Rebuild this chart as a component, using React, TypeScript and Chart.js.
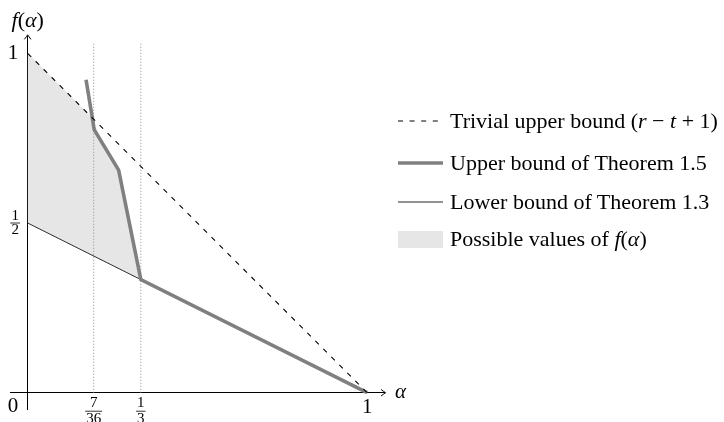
import React, { useEffect, useRef } from "react";
import { Chart, registerables } from "chart.js";

Chart.register(...registerables);

const FONT = "'Liberation Serif', 'Times New Roman', serif";

// ---- data ----
const trivialX = [0, 1];
const trivialY = [1, 0];
const upperX = [0.172, 0.196, 0.268, 1 / 3, 1];
const upperY = [0.922, 0.775, 0.656, 1 / 3, 0];
const lowerX = [0, 1];
const lowerY = [0.5, 0];
const regionX = [0, 0.19, 0.196, 0.268, 1 / 3];
const regionY = [1, 0.81, 0.775, 0.656, 1 / 3];
const markerX = [7 / 36, 1 / 3];
const markerY = [0, 1.03];

const xTickValues = [7 / 36, 1 / 3, 1];
const xTickLabels: (string | string[])[] = [["7", "36"], ["1", "3"], "1"];
const yTickValues = [0, 0.5, 1];
const yTickLabels: (string | string[])[] = [["", "0"], ["1", "2"], "1"];

const legendTexts: [string, boolean][][] = [
  [["Trivial upper bound (", false], ["r", true], [" − ", false], ["t", true], [" + 1)", false]],
  [["Upper bound of Theorem 1.5", false]],
  [["Lower bound of Theorem 1.3", false]],
  [["Possible values of ", false], ["f", true], ["(", false], ["α", true], [")", false]],
];
const legendKinds = ["dash", "thick", "thin", "box"];

const SP_BIG = " \u2009";
const SP_SMALL = "\u2002\u200A";
const FRAC_SIZE = 15;
const FRAC_LH = 15.5;
const X_PAD = 3;

const isFrac = (l: string | string[]) => Array.isArray(l) && l[0] !== "" && l.length === 2;

const pts = (xs: number[], ys: number[]) => xs.map((x, i) => ({ x, y: ys[i] }));

const drawParts = (ctx: CanvasRenderingContext2D, parts: [string, boolean][], x: number, y: number, size: number, align: "left" | "center") => {
  const fontOf = (it: boolean) => `${it ? "italic " : ""}${size}px ${FONT}`;
  let total = 0;
  for (const [t, it] of parts) {
    ctx.font = fontOf(it);
    total += ctx.measureText(t).width;
  }
  let cx = align === "center" ? x - total / 2 : x;
  ctx.textAlign = "left";
  for (const [t, it] of parts) {
    ctx.font = fontOf(it);
    ctx.fillText(t, cx, y);
    cx += ctx.measureText(t).width;
  }
};

const decorPlugin = {
  id: "decor",
  afterDraw(chart: any) {
    const ctx: CanvasRenderingContext2D = chart.ctx;
    const xs = chart.scales.x;
    const ys = chart.scales.y;
    const x0 = xs.getPixelForValue(0);
    const y0 = ys.getPixelForValue(0);
    ctx.save();
    ctx.strokeStyle = "#000";
    ctx.fillStyle = "#000";
    ctx.lineWidth = 1;
    // arrow heads
    const xr = xs.right + 1.5;
    ctx.beginPath();
    ctx.moveTo(xr - 4.5, y0 - 3.3);
    ctx.quadraticCurveTo(xr - 1.5, y0 - 0.8, xr, y0);
    ctx.quadraticCurveTo(xr - 1.5, y0 + 0.8, xr - 4.5, y0 + 3.3);
    ctx.stroke();
    const yt = ys.top - 1.5;
    ctx.beginPath();
    ctx.moveTo(x0 - 3.3, yt + 4.5);
    ctx.quadraticCurveTo(x0 - 0.8, yt + 1.5, x0, yt);
    ctx.quadraticCurveTo(x0 + 0.8, yt + 1.5, x0 + 3.3, yt + 4.5);
    ctx.stroke();
    // fraction bars
    ctx.lineWidth = 0.8;
    ctx.font = `${FRAC_SIZE}px ${FONT}`;
    xTickValues.forEach((v, i) => {
      const l = xTickLabels[i];
      if (!isFrac(l)) return;
      const w = Math.max(ctx.measureText((l as string[])[0]).width, ctx.measureText((l as string[])[1]).width) + 2;
      const px = xs.getPixelForValue(v);
      const by = y0 + X_PAD + FRAC_LH;
      ctx.beginPath();
      ctx.moveTo(px - w / 2, by);
      ctx.lineTo(px + w / 2, by);
      ctx.stroke();
    });
    yTickValues.forEach((v, i) => {
      const l = yTickLabels[i];
      if (!isFrac(l)) return;
      const w = Math.max(ctx.measureText((l as string[])[0]).width, ctx.measureText((l as string[])[1]).width);
      const right = x0 - ctx.measureText(SP_SMALL).width;
      const py = ys.getPixelForValue(v);
      ctx.beginPath();
      ctx.moveTo(right - w - 1.2, py);
      ctx.lineTo(right + 1.2, py);
      ctx.stroke();
    });
    // axis titles
    ctx.textBaseline = "alphabetic";
    drawParts(ctx, [["α", true]], xs.right + 11, y0 + 5, 21, "left");
    drawParts(ctx, [["f", true], ["(", false], ["α", true], [")", false]], x0, 27, 22, "center");
    ctx.restore();
  },
};

export default function App() {
  const ref = useRef<HTMLCanvasElement | null>(null);

  useEffect(() => {
    if (!ref.current) return;
    const chart = new Chart(ref.current, {
      type: "scatter",
      data: {
        datasets: [
          {
            label: "Trivial upper bound",
            data: pts(trivialX, trivialY),
            showLine: true,
            borderColor: "#000",
            borderWidth: 1.1,
            borderDash: [5, 6.3],
            pointRadius: 0,
            fill: false,
          },
          {
            label: "Upper bound of Theorem 1.5",
            data: pts(upperX, upperY),
            showLine: true,
            borderColor: "#808080",
            borderWidth: 3.6,
            pointRadius: 0,
            fill: false,
          },
          {
            label: "Lower bound of Theorem 1.3",
            data: pts(lowerX, lowerY),
            showLine: true,
            borderColor: "#1a1a1a",
            borderWidth: 0.9,
            pointRadius: 0,
            fill: false,
          },
          {
            label: "7/36",
            data: pts([markerX[0], markerX[0]], markerY),
            showLine: true,
            borderColor: "#8c8c8c",
            borderWidth: 1,
            borderDash: [1, 2],
            pointRadius: 0,
            fill: false,
          },
          {
            label: "1/3",
            data: pts([markerX[1], markerX[1]], markerY),
            showLine: true,
            borderColor: "#8c8c8c",
            borderWidth: 1,
            borderDash: [1, 2],
            pointRadius: 0,
            fill: false,
          },
          {
            label: "Possible values",
            data: pts(regionX, regionY),
            showLine: true,
            borderWidth: 0,
            borderColor: "rgba(0,0,0,0)",
            backgroundColor: "#e6e6e6",
            pointRadius: 0,
            fill: { target: 2 },
          },
        ],
      },
      options: {
        animation: false,
        responsive: false,
        events: [],
        layout: {
          autoPadding: false,
          padding: { left: 10.7, right: 339.9, top: 36.3, bottom: 12.3 },
        },
        elements: { line: { tension: 0 }, point: { radius: 0 } },
        plugins: { legend: { display: false }, tooltip: { enabled: false } },
        scales: {
          x: {
            type: "linear",
            min: -0.05,
            max: 1.05,
            position: { y: 0 },
            grid: { display: false, drawTicks: false },
            border: { display: true, color: "#000", width: 1 },
            afterBuildTicks: (s: any) => {
              s.ticks = xTickValues.map((v) => ({ value: v }));
            },
            afterFit: (s: any) => {
              s.paddingLeft = 0; s.paddingRight = 0; s.paddingTop = 0; s.paddingBottom = 0;
            },
            ticks: {
              autoSkip: false,
              maxRotation: 0,
              minRotation: 0,
              padding: X_PAD,
              color: "#000",
              callback: (_v: any, i: number) => xTickLabels[i],
              font: (c: any) =>
                isFrac(xTickLabels[c.index] ?? "")
                  ? { family: FONT, size: FRAC_SIZE, lineHeight: `${FRAC_LH}px` }
                  : { family: FONT, size: 21, lineHeight: "22.6px" },
            },
          },
          y: {
            type: "linear",
            min: -0.05,
            max: 1.05,
            position: { x: 0 },
            grid: { display: false, drawTicks: false },
            border: { display: true, color: "#000", width: 1 },
            afterBuildTicks: (s: any) => {
              s.ticks = yTickValues.map((v) => ({ value: v }));
            },
            afterFit: (s: any) => {
              s.paddingLeft = 0; s.paddingRight = 0; s.paddingTop = 0; s.paddingBottom = 0;
            },
            ticks: {
              autoSkip: false,
              padding: 0,
              color: "#000",
              callback: (_v: any, i: number) => {
                const l = yTickLabels[i];
                const sp = isFrac(l) ? SP_SMALL : SP_BIG;
                return Array.isArray(l) ? l.map((s) => (s === "" ? s : s + sp)) : l + sp;
              },
              font: (c: any) => {
                const l = yTickLabels[c.index] ?? "";
                if (isFrac(l)) return { family: FONT, size: FRAC_SIZE, lineHeight: "14.5px" };
                if (Array.isArray(l)) return { family: FONT, size: 21, lineHeight: "28px" };
                return { family: FONT, size: 21, lineHeight: "21px" };
              },
            },
          },
        },
      },
      plugins: [decorPlugin],
    } as any);
    return () => chart.destroy();
  }, []);

  const rowCenters = [121, 162.5, 201.5, 239];

  const sample = (kind: string) => {
    if (kind === "box")
      return <div style={{ width: 45, height: 17, background: "#e6e6e6" }} />;
    const stroke = kind === "thick" ? "#808080" : kind === "thin" ? "#6e6e6e" : "#000";
    const sw = kind === "thick" ? 3.6 : kind === "thin" ? 1.3 : 1;
    return (
      <svg width={46} height={8} style={{ display: "block" }}>
        <line x1={0} y1={4} x2={45} y2={4} stroke={stroke} strokeWidth={sw} strokeDasharray={kind === "dash" ? "5 6.6" : undefined} />
      </svg>
    );
  };

  return (
    <div style={{ position: "absolute", left: 0, top: 0, width: 724, height: 422, background: "#fff" }}>
      <canvas ref={ref} width={724} height={422} style={{ position: "absolute", left: 0, top: 0 }} />
      {legendTexts.map((parts, i) => (
        <div key={i} style={{ position: "absolute", left: 398, top: rowCenters[i] - 15, height: 30, display: "flex", alignItems: "center", whiteSpace: "nowrap" }}>
          <div style={{ width: 52, display: "flex", alignItems: "center" }}>{sample(legendKinds[i])}</div>
          <span style={{ fontFamily: FONT, fontSize: 22, color: "#000" }}>
            {parts.map(([t, it], j) => (
              <span key={j} style={{ fontStyle: it ? "italic" : "normal" }}>{t}</span>
            ))}
          </span>
        </div>
      ))}
    </div>
  );
}
